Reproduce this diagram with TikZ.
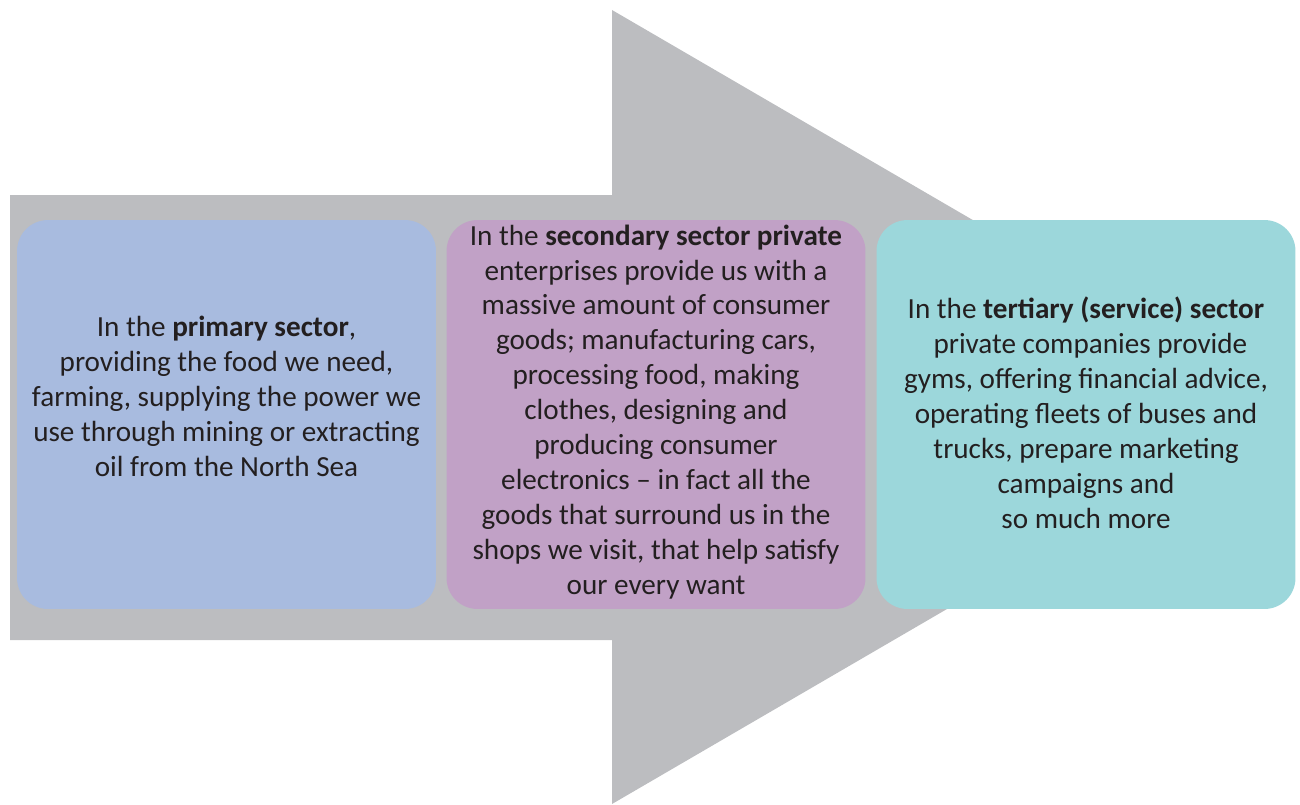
\documentclass[tikz,border=0pt]{standalone}
\usepackage{fontspec}
\setmainfont{Carlito}
\definecolor{arrowgray}{HTML}{BCBDC0}
\definecolor{primblue}{HTML}{A8BBDF}
\definecolor{secpurple}{HTML}{C1A1C6}
\definecolor{terteal}{HTML}{9CD7DB}
\definecolor{textdark}{HTML}{231F20}

\begin{document}
\begin{tikzpicture}[x=0.02cm,y=-0.02cm,
    sectorbox/.style={rounded corners=0.62cm,minimum width=8.38cm,minimum height=7.78cm,inner sep=0pt},
    sectortext/.style={align=center,text=textdark,font=\fontsize{16.6}{19.9}\selectfont}]
\useasboundingbox (0,0) rectangle (1300,804);
            % Arrow
\fill[arrowgray] (10,195) -- (612,195) -- (612,10) -- (1294,407)
                 -- (612,804) -- (612,640) -- (10,640) -- cycle;
            % Boxes
\node[sectorbox,fill=primblue]  (prim) at (226.5,414.5) {};
\node[sectorbox,fill=secpurple] (sec)  at (656,414.5)   {};
\node[sectorbox,fill=terteal]   (ter)  at (1086,414.5)  {};
%Texts
\node[sectortext] (primtxt) at (226.5,396) {In the \textbf{primary sector},\\
  providing the food we need,\\
  farming, supplying the power we\\
  use through mining or extracting\\
  oil from the North Sea};
\node[sectortext] (sectxt) at (656,412) {In the \textbf{secondary sector private}\\
  enterprises provide us with a\\
  massive amount of consumer\\
  goods; manufacturing cars,\\
  processing food, making\\
  clothes, designing and\\
  producing consumer\\
  electronics -- in fact all the\\
  goods that surround us in the\\
  shops we visit, that help satisfy\\
  our every want};
\node[sectortext] (tertxt) at (1086,413) {In the \textbf{tertiary (service) sector}\\
  \hspace{0.3em}private companies provide\\
  gyms, offering financial advice,\\
  operating fleets of buses and\\
  trucks, prepare marketing\\
  campaigns and\\
  so much more};
\end{tikzpicture}
\end{document}
